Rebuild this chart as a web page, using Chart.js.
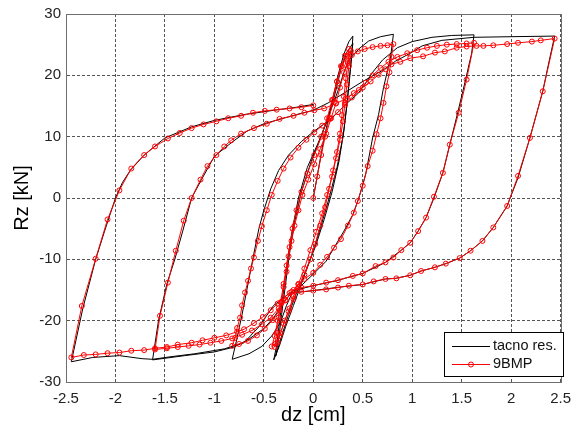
<!DOCTYPE html>
<html>
<head>
<meta charset="utf-8">
<script src="https://cdn.jsdelivr.net/npm/chart.js@4/dist/chart.umd.min.js"></script>
<style>
html,body{margin:0;padding:0;background:#fff;}
#wrap{position:relative;width:579px;height:430px;}
</style>
</head>
<body>
<div id="wrap"><canvas id="c" width="579" height="430"></canvas></div>
<script>
// ---- data ----
const seriesNames = ['tacno res.', '9BMP'];
const xTicks = [-2.5, -2, -1.5, -1, -0.5, 0, 0.5, 1, 1.5, 2, 2.5];
const yTicks = [-30, -20, -10, 0, 10, 20, 30];

// black: "tacno res." (displacement dz [cm])
const tacnoX = [
 0,0.1,0.18,0.25,0.31,0.36,0.40,
 0.39,0.37,0.34,0.3,0.24,0.16,0.07,-0.03,-0.12,-0.2,-0.28,-0.34,-0.40,
 -0.37,-0.34,-0.3,-0.26,-0.21,-0.15,-0.06,0.05,0.15,0.22,0.28,0.34,0.40,
 0.38,0.35,0.31,0.26,0.19,0.11,0.02,-0.08,-0.17,-0.25,-0.32,-0.38,
 -0.35,-0.32,-0.28,-0.24,-0.19,-0.12,-0.02,0.08,0.17,0.25,0.31,0.36,0.46,0.56,0.68,0.81,
 0.78,0.71,0.66,0.60,0.53,0.46,0.40,0.31,0.21,0.13,0,-0.14,-0.22,-0.27,-0.33,-0.42,-0.52,-0.65,-0.82,
 -0.78,-0.72,-0.66,-0.6,-0.55,-0.5,-0.43,-0.35,-0.25,-0.12,0,0.12,0.22,0.33,0.45,0.52,0.6,0.7,0.85,1.0,1.2,1.4,1.625,
 1.6,1.575,1.54,1.46,1.38,1.31,1.22,1.14,1.06,0.98,0.89,0.73,0.50,0.23,0,-0.2,-0.3,-0.4,-0.5,-0.65,-0.8,-1.0,-1.3,-1.625,
 -1.565,-1.48,-1.40,-1.32,-1.23,-1.13,-1.0,-0.83,-0.67,-0.5,-0.17,0,0.15,0.3,0.5,0.7,0.83,0.98,1.1,1.3,1.625,2.0,2.44,
 2.38,2.32,2.19,2.07,1.99,1.96,1.82,1.71,1.59,1.48,1.34,1.23,1.09,0.98,0.83,0.73,0.50,0.23,0,-0.24,-0.4,-0.55,-0.7,-0.9,-1.2,-1.45,-1.625,-1.73,-1.96,-2.23,-2.446,
 -2.33,-2.2,-2.11,-2.0,-1.93,-1.85,-1.71,-1.5,-1.23,-1.0,-0.70,-0.4,-0.17,0
];
// black: "tacno res." (force Rz [kN])
const tacnoY = [
 0,9,15,20,23.5,25.5,26.4,
 23.5,20,15,10,5,0,-5,-10,-14,-17.5,-21,-24,-26.4,
 -24,-20,-15,-10,-5,0,5,9,13,17,21,23.8,25.2,
 22,17,11,6,1,-3.5,-8,-12,-15.5,-19,-22.5,-25.8,
 -23,-19,-14,-9,-4,1,6,10,14,17.5,20.5,22.5,24.3,25.6,26.3,26.7,
 22.8,18,13.6,9.8,3.9,0,-2.7,-5.4,-8.1,-10.3,-12.4,-14.6,-15.7,-17.5,-20.2,-22.5,-24.2,-25.4,-26.3,
 -23.5,-19,-14,-9,-5,-2,1.5,4.5,7,9.2,10.8,12.2,13.5,15.3,17,18.5,20.5,22.5,24.5,25.5,26.2,26.5,26.6,
 23.5,21.8,19.3,13.9,8.7,4.1,0,-3.2,-5.4,-7.3,-8.5,-10.5,-12.3,-13.5,-14.3,-15.1,-17,-19.5,-21.3,-23,-24.3,-25.1,-25.7,-26.4,
 -20.0,-14,-10,-5.4,0,3.0,6.8,9.0,10.9,12.1,13.6,14.3,15.5,17,19,20.8,22.3,23.6,24.8,25.7,26.2,26.3,26.4,
 22,17.4,9.8,3.3,0,-1.3,-4.8,-7.0,-8.6,-9.8,-10.7,-11.3,-11.9,-12.6,-13.1,-13.2,-14.1,-14.6,-15.1,-15.5,-17.5,-21,-23.6,-24.6,-25.4,-25.9,-26.3,-26.2,-25.7,-26.0,-26.7,
 -18,-10,-5.4,0,2.5,4.5,7.0,9.8,11.6,12.65,13.6,14.3,14.8,15.25
];

// red: "9BMP" (displacement dz [cm])
const bmpX = [
 0,0.04,0.08,0.12,0.16,0.2,0.24,0.28,0.32,0.36,
 0.35,0.33,0.31,0.29,0.27,0.24,0.2,0.16,0.12,0.07,0.02,-0.03,-0.09,-0.15,-0.2,-0.25,-0.3,-0.34,-0.38,-0.42,
 -0.39,-0.36,-0.33,-0.3,-0.27,-0.24,-0.21,-0.17,-0.12,-0.06,0.01,0.08,0.14,0.19,0.24,0.29,0.34,0.38,
 0.36,0.34,0.32,0.3,0.27,0.23,0.19,0.14,0.09,0.03,-0.03,-0.09,-0.15,-0.2,-0.24,-0.29,-0.33,-0.36,-0.39,
 -0.37,-0.35,-0.32,-0.3,-0.27,-0.25,-0.22,-0.19,-0.15,-0.11,-0.05,0.01,0.07,0.13,0.18,0.23,0.27,0.31,0.35,0.39,0.45,0.52,0.6,0.68,0.75,0.81,
 0.79,0.77,0.74,0.71,0.68,0.64,0.6,0.55,0.5,0.45,0.41,0.35,0.28,0.21,0.14,0.07,0,-0.09,-0.15,-0.22,-0.28,-0.34,-0.41,-0.49,-0.57,-0.66,-0.75,-0.82,
 -0.79,-0.77,-0.74,-0.72,-0.69,-0.66,-0.63,-0.6,-0.56,-0.52,-0.47,-0.42,-0.36,-0.3,-0.23,-0.15,-0.07,0.01,0.09,0.17,0.25,0.32,0.39,0.46,0.53,0.6,0.68,0.76,0.85,0.95,1.05,1.15,1.25,1.35,1.45,1.55,1.625,
 1.55,1.47,1.38,1.31,1.22,1.14,1.06,0.98,0.89,0.81,0.73,0.63,0.5,0.4,0.25,0.13,0,-0.12,-0.2,-0.28,-0.35,-0.43,-0.52,-0.62,-0.72,-0.82,-0.93,-1.04,-1.15,-1.26,-1.37,-1.48,-1.6,
 -1.55,-1.47,-1.39,-1.31,-1.23,-1.14,-1.07,-0.98,-0.9,-0.83,-0.73,-0.6,-0.47,-0.34,-0.2,-0.09,0.01,0.11,0.23,0.33,0.41,0.5,0.58,0.66,0.73,0.79,0.88,0.98,1.11,1.23,1.33,1.45,1.55,1.65,1.72,1.82,1.96,2.07,2.21,2.3,2.44,
 2.32,2.19,2.07,1.96,1.82,1.71,1.59,1.48,1.34,1.23,1.09,0.98,0.84,0.73,0.61,0.5,0.36,0.25,0.13,0,-0.12,-0.24,-0.3,-0.36,-0.43,-0.51,-0.6,-0.7,-0.77,-0.88,-1.0,-1.12,-1.23,-1.37,-1.48,-1.6,-1.71,-1.84,-1.96,-2.08,-2.2,-2.32,-2.446,
 -2.34,-2.2,-2.08,-1.96,-1.84,-1.71,-1.6,-1.47,-1.35,-1.23,-1.11,-0.98,-0.86,-0.73,-0.61,-0.49,-0.37,-0.24,-0.12,0
];
// red: "9BMP" (force Rz [kN])
const bmpY = [
 0,3.5,7,10,13,16,19,21.5,23.2,24.3,
 22,19.5,16.5,13.5,10.5,7.5,4.5,1.5,-1.5,-4.5,-7.5,-10,-12.5,-14.5,-16.5,-18.5,-20.5,-22.5,-23.7,-24.2,
 -22.5,-20,-17,-14,-11,-8,-5,-2,1,4,7,10,13,16,19,21.5,23.2,24,
 21.5,18.5,15.5,12.5,9.5,6.5,3.5,0.5,-2.5,-5.5,-8.5,-11.5,-14,-16,-18,-20,-22,-23.5,-24.3,
 -22,-19.5,-17,-14.5,-12,-9.5,-7,-4.5,-2,0.5,3,5.5,8,10.5,13,15.5,18,20.5,22.3,23.3,23.9,24.3,24.6,24.8,24.9,25.1,
 23,20.5,18.2,15.5,13,10.4,7.7,5.2,2,-0.5,-2.4,-4.5,-6.7,-8.1,-9.6,-10.9,-12.2,-13.2,-14.1,-15.3,-16.7,-18.3,-19.9,-21.3,-22.4,-23.3,-23.8,-24.1,
 -22.8,-21.2,-19.5,-17.5,-15.4,-13.5,-11.5,-9.7,-7,-4.6,-2,0.5,2.8,4.8,6.6,8.2,9.5,10.7,11.8,12.9,14,15.2,16.4,17.6,18.8,20,21.2,22.2,23,23.6,24.1,24.5,24.8,25,25.1,25.2,25.3,
 19.3,13.9,8.7,4.1,0.2,-3.2,-5.4,-7.3,-8.5,-9.7,-10.5,-11.1,-12.3,-12.7,-13.4,-13.8,-14.3,-14.6,-15.0,-16.6,-18,-19.5,-20.6,-21.6,-22.3,-22.9,-23.3,-23.6,-23.9,-24.1,-24.3,-24.5,-24.7,
 -19.2,-13.8,-8.6,-3.7,0,3.0,5.2,7.0,8.4,9.4,10.5,11.4,12.1,12.9,13.4,13.9,14.3,14.6,15.4,16.2,17.1,18,19,20.1,21,21.8,22.2,22.8,23.1,23.7,23.9,24.5,24.7,24.8,24.8,24.9,25.1,25.3,25.5,25.7,26.0,
 17.4,9.8,3.6,-1.3,-4.8,-7.0,-8.6,-9.8,-10.7,-11.3,-11.9,-12.6,-13.1,-13.2,-13.6,-14.1,-14.3,-14.6,-14.9,-15.1,-15.3,-15.5,-16.3,-17.2,-18.3,-19.4,-20.4,-21.4,-21.8,-22.4,-22.8,-23.2,-23.6,-23.9,-24.3,-24.5,-24.8,-24.9,-25.2,-25.3,-25.5,-25.6,-26.0,
 -17.6,-9.9,-3.5,1.25,4.8,7.0,8.4,9.7,10.6,11.4,12.0,12.5,13.0,13.4,13.9,14.2,14.4,14.6,14.8,15.1
];

const FONT = '"Liberation Sans", Arial, Helvetica, sans-serif';
const toPts = (xs, ys) => xs.map((x, i) => ({x: x, y: ys[i]}));

// full box around plot + in-plot legend
const boxAndLegend = {
  id: 'boxAndLegend',
  afterDraw(chart) {
    const {ctx, chartArea: a} = chart;
    ctx.save();
    ctx.setLineDash([]);
    ctx.strokeStyle = '#6e6e6e';
    ctx.lineWidth = 1;
    ctx.strokeRect(Math.round(a.left) + 0.5, Math.round(a.top) + 0.5,
                   Math.round(a.right - a.left), Math.round(a.bottom - a.top));
    // legend box
    const lx = 444.5, ly = 332.5, lw = 119, lh = 44;
    ctx.fillStyle = '#fff';
    ctx.fillRect(lx, ly, lw, lh);
    ctx.strokeStyle = '#000';
    ctx.strokeRect(lx, ly, lw, lh);
    ctx.lineWidth = 1;
    ctx.strokeStyle = '#000';
    ctx.beginPath(); ctx.moveTo(452, 346.5); ctx.lineTo(490, 346.5); ctx.stroke();
    ctx.strokeStyle = '#ff0000';
    ctx.beginPath(); ctx.moveTo(452, 364.5); ctx.lineTo(490, 364.5); ctx.stroke();
    ctx.beginPath(); ctx.arc(471, 364.5, 2.5, 0, Math.PI * 2); ctx.stroke();
    ctx.fillStyle = '#111';
    ctx.font = '14.5px ' + FONT;
    ctx.textBaseline = 'middle';
    ctx.textAlign = 'left';
    ctx.fillText(seriesNames[0], 493, 346);
    ctx.fillText(seriesNames[1], 493, 364);
    ctx.restore();
  }
};

const gridOpts = {
  color: '#555555',
  lineWidth: 1,
  drawTicks: false,
  tickLength: 0
};

new Chart(document.getElementById('c'), {
  type: 'scatter',
  data: {
    datasets: [
      {
        label: seriesNames[0],
        data: toPts(tacnoX, tacnoY),
        showLine: true,
        borderColor: '#000000',
        borderWidth: 1,
        pointRadius: 0,
        pointHoverRadius: 0,
        tension: 0,
        order: 1
      },
      {
        label: seriesNames[1],
        data: toPts(bmpX, bmpY),
        showLine: true,
        borderColor: '#ff0000',
        borderWidth: 1,
        pointRadius: 2.5,
        pointHoverRadius: 2.5,
        pointStyle: 'circle',
        pointBorderColor: '#ff0000',
        pointBackgroundColor: 'rgba(255,255,255,0)',
        pointBorderWidth: 1,
        tension: 0,
        order: 0
      }
    ]
  },
  options: {
    responsive: false,
    animation: false,
    devicePixelRatio: 1,
    layout: {padding: {left: 0, right: 11, top: 13, bottom: 0}},
    plugins: {legend: {display: false}, tooltip: {enabled: false}},
    scales: {
      x: {
        type: 'linear',
        min: xTicks[0], max: xTicks[xTicks.length - 1],
        afterBuildTicks: (s) => { s.ticks = xTicks.map(v => ({value: v})); },
        afterFit: (s) => { s.height = 48; },
        ticks: {
          color: '#222', padding: 8,
          font: {family: FONT, size: 15},
          maxRotation: 0, autoSkip: false,
          callback: (v) => String(v)
        },
        grid: Object.assign({}, gridOpts),
        border: {display: true, color: '#6e6e6e', dash: [3, 2], width: 1},
        title: {display: true, text: 'dz [cm]', color: '#000',
                font: {family: FONT, size: 20}, padding: {top: 0, bottom: 3}}
      },
      y: {
        type: 'linear',
        min: yTicks[0], max: yTicks[yTicks.length - 1],
        afterBuildTicks: (s) => { s.ticks = yTicks.map(v => ({value: v})); },
        afterFit: (s) => { s.width = 66; },
        ticks: {
          color: '#222', padding: 5,
          font: {family: FONT, size: 15},
          autoSkip: false,
          callback: (v) => String(v)
        },
        grid: Object.assign({}, gridOpts),
        border: {display: true, color: '#6e6e6e', dash: [3, 2], width: 1},
        title: {display: true, text: 'Rz [kN]', color: '#000',
                font: {family: FONT, size: 20}, padding: {top: 10, bottom: 0}}
      }
    }
  },
  plugins: [boxAndLegend]
});
</script>
</body>
</html>
